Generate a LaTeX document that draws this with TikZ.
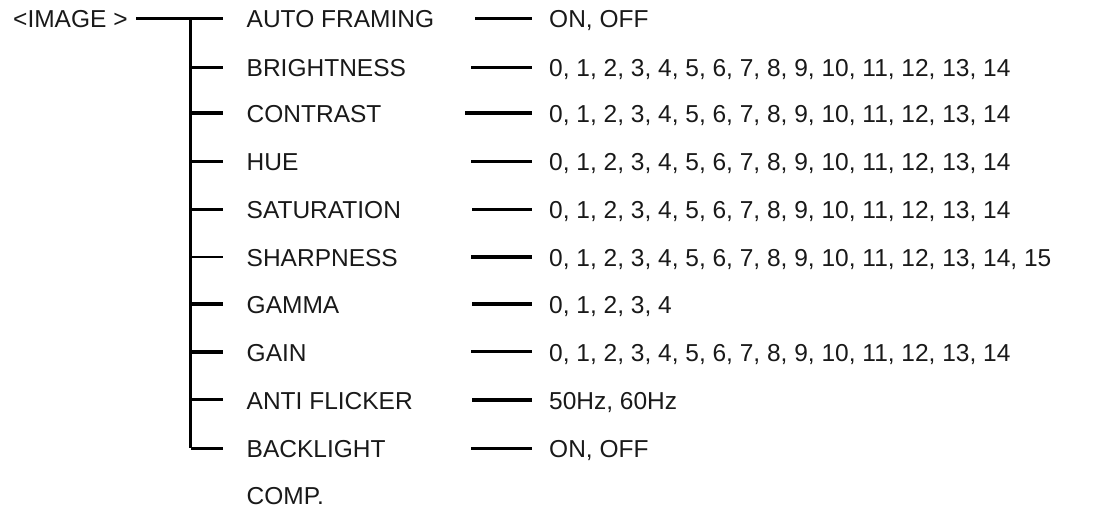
\documentclass[tikz,border=0pt]{standalone}
\usepackage{fontspec}
\setmainfont{Liberation Sans}
\begin{document}
\begin{tikzpicture}[x=1pt,y=-1pt,
  lbl/.style={anchor=base west,inner sep=0pt,font=\fontsize{24.5}{28}\selectfont,text=black!90},
  wire/.style={line width=3.5pt,black}]
\useasboundingbox (0,0) rectangle (1117,526);
\node[lbl] (img) at (13,28) {<IMAGE >};
\coordinate (top) at (136,18.5);
\coordinate (tr) at (190.5,18.5);
\foreach \n/\y/\t/\v/\xs/\lw/\bw in {
  1/18.5/AUTO FRAMING/{ON, OFF}/475/3.5/3.5,
  2/67.5/BRIGHTNESS/{0, 1, 2, 3, 4, 5, 6, 7, 8, 9, 10, 11, 12, 13, 14}/471/2.6/3.3,
  3/113/CONTRAST/{0, 1, 2, 3, 4, 5, 6, 7, 8, 9, 10, 11, 12, 13, 14}/465/3.5/3.5,
  4/161.5/HUE/{0, 1, 2, 3, 4, 5, 6, 7, 8, 9, 10, 11, 12, 13, 14}/471/3.6/3.5,
  5/209.5/SATURATION/{0, 1, 2, 3, 4, 5, 6, 7, 8, 9, 10, 11, 12, 13, 14}/472/2.8/3,
  6/257/SHARPNESS/{0, 1, 2, 3, 4, 5, 6, 7, 8, 9, 10, 11, 12, 13, 14, 15}/471/3.6/1.4,
  7/304/GAMMA/{0, 1, 2, 3, 4}/472/3.5/3.6,
  8/352/GAIN/{0, 1, 2, 3, 4, 5, 6, 7, 8, 9, 10, 11, 12, 13, 14}/471/3/3.6,
  9/400/ANTI FLICKER/{50Hz, 60Hz}/472/3.5/3,
  10/448.5/BACKLIGHT/{ON, OFF}/471/3.2/3}{
  \node[lbl] (l\n) at (246.5,\y+9.5) {\t};
  \node[lbl] (v\n) at (549,\y+9.5) {\v};
  \coordinate (b\n) at (190.5,\y);
  \coordinate (be\n) at (223,\y);
  \coordinate (rs\n) at (\xs,\y);
  \coordinate (re\n) at (532,\y);
  \draw[wire,line width=\bw pt] (b\n) -- (be\n);
  \draw[wire,line width=\lw pt] (rs\n) -- (re\n);
}
\node[lbl] (comp) at (246.5,504) {COMP.};
\draw[wire] (top) -- (be1);
\draw[wire] (tr) -- (b10);
\end{tikzpicture}
\end{document}
